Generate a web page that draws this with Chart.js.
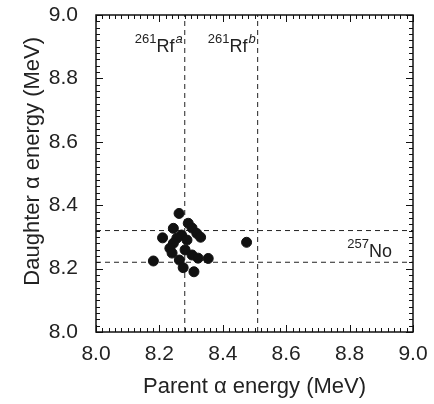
<!DOCTYPE html>
<html>
<head>
<meta charset="utf-8">
<script src="https://cdn.jsdelivr.net/npm/chart.js@4/dist/chart.umd.min.js"></script>
<style>
html, body { margin: 0; padding: 0; background: #fff; }
</style>
</head>
<body>
<canvas id="myChart" width="434" height="404"></canvas>
<script>
// correlated parent / daughter alpha energies (MeV)
var parentE   = [8.262, 8.210, 8.244, 8.291, 8.303, 8.318, 8.330, 8.270, 8.255, 8.244, 8.233,
                 8.240, 8.281, 8.303, 8.322, 8.354, 8.181, 8.263, 8.275, 8.309, 8.475, 8.287];
var daughterE = [8.374, 8.297, 8.327, 8.343, 8.328, 8.311, 8.299, 8.306, 8.296, 8.280, 8.264,
                 8.249, 8.259, 8.243, 8.233, 8.232, 8.224, 8.227, 8.203, 8.190, 8.283, 8.290];

// reference energies drawn as dashed lines
var rfLines = [8.28, 8.51];   // 261Rf a / b (parent)
var noLines = [8.22, 8.32];   // 257No (daughter)

// isotope labels: mass, symbol, superscript, anchor (right end, baseline)
var isoMass  = ['261', '261', '257'];
var isoSym   = ['Rf', 'Rf', 'No'];
var isoSup   = ['a', 'b', ''];
var isoX     = [8.28, 8.51, 8.94];
var isoY     = [8.883, 8.883, 8.2375];

var axisMin = 8.0, axisMax = 9.0, majorStep = 0.2, minorStep = 0.02;

Chart.defaults.font.family = "'Liberation Sans', Arial, Helvetica, sans-serif";
Chart.defaults.color = '#222';

var datasets = [{
    data: parentE.map(function(x, i) { return {x: x, y: daughterE[i]}; }),
    backgroundColor: '#111',
    borderColor: '#111',
    pointRadius: 5,
    pointHoverRadius: 5
}];
rfLines.forEach(function(v) {
    datasets.push({ data: [{x: v, y: axisMin}, {x: v, y: axisMax}], showLine: true,
        borderColor: '#222', borderWidth: 1, borderDash: [5, 4], pointRadius: 0 });
});
noLines.forEach(function(v) {
    datasets.push({ data: [{x: axisMin, y: v}, {x: axisMax, y: v}], showLine: true,
        borderColor: '#222', borderWidth: 1, borderDash: [5, 4], pointRadius: 0 });
});

var frameTicks = {
    id: 'frameTicks',
    afterDatasetsDraw: function(chart) {
        var ctx = chart.ctx, a = chart.chartArea;
        var xs = chart.scales.x, ys = chart.scales.y;
        ctx.save();
        ctx.strokeStyle = '#111';
        ctx.lineWidth = 1;
        ctx.beginPath();
        var n = Math.round((axisMax - axisMin) / minorStep);
        var per = Math.round(majorStep / minorStep);
        for (var i = 0; i <= n; i++) {
            var v = axisMin + i * minorStep;
            var len = (i % per === 0) ? 7 : 4;
            var px = Math.round(xs.getPixelForValue(v)) + 0.5;
            ctx.moveTo(px, a.bottom); ctx.lineTo(px, a.bottom - len);
            ctx.moveTo(px, a.top); ctx.lineTo(px, a.top + len);
            var py = Math.round(ys.getPixelForValue(v)) + 0.5;
            ctx.moveTo(a.left, py); ctx.lineTo(a.left + len, py);
            ctx.moveTo(a.right, py); ctx.lineTo(a.right - len, py);
        }
        ctx.stroke();
        ctx.lineWidth = 1.5;
        ctx.strokeRect(a.left, a.top, a.right - a.left, a.bottom - a.top);

        // isotope labels
        ctx.fillStyle = '#222';
        ctx.textBaseline = 'alphabetic';
        ctx.textAlign = 'left';
        var fam = Chart.defaults.font.family;
        for (var k = 0; k < isoSym.length; k++) {
            var xr = xs.getPixelForValue(isoX[k]) - 2;
            var yb = ys.getPixelForValue(isoY[k]);
            ctx.font = 'italic 13px ' + fam;
            var wSup = isoSup[k] ? ctx.measureText(isoSup[k]).width + 1 : 0;
            ctx.font = '18px ' + fam;
            var wSym = ctx.measureText(isoSym[k]).width;
            ctx.font = '13px ' + fam;
            var wMass = ctx.measureText(isoMass[k]).width;
            var x0 = xr - wSup - wSym - wMass;
            ctx.fillText(isoMass[k], x0, yb - 9);
            ctx.font = '18px ' + fam;
            ctx.fillText(isoSym[k], x0 + wMass, yb);
            if (isoSup[k]) {
                ctx.font = 'italic 13px ' + fam;
                ctx.fillText(isoSup[k], x0 + wMass + wSym + 1, yb - 9);
            }
        }
        ctx.restore();
    }
};

var ctx = document.getElementById('myChart').getContext('2d');
var myChart = new Chart(ctx, {
    type: 'scatter',
    data: { datasets: datasets },
    options: {
        responsive: false,
        animation: false,
        layout: { padding: { left: 0, right: 21, top: 15, bottom: 0 } },
        plugins: { legend: { display: false }, tooltip: { enabled: false } },
        scales: {
            x: {
                type: 'linear', min: axisMin, max: axisMax,
                grid: { display: false }, border: { display: false },
                ticks: { stepSize: majorStep, autoSkip: false, padding: 2, maxRotation: 0,
                    font: { size: 21 },
                    callback: function(v) { return v.toFixed(1); } },
                title: { display: true, text: 'Parent \u03b1 energy (MeV)', font: { size: 22 },
                    padding: { top: 0, bottom: 4 } },
                afterFit: function(s) { s.height = 72; s.paddingLeft = 0; s.paddingRight = 0; }
            },
            y: {
                type: 'linear', min: axisMin, max: axisMax,
                grid: { display: false }, border: { display: false },
                ticks: { stepSize: majorStep, autoSkip: false, padding: 10,
                    font: { size: 21 },
                    callback: function(v) { return v.toFixed(1); } },
                // leading spaces nudge the title up, as in the original
                title: { display: true, text: '\u00a0\u00a0\u00a0\u00a0Daughter \u03b1 energy (MeV)', font: { size: 22 },
                    padding: { top: 20, bottom: 0 } },
                afterFit: function(s) { s.width = 96; s.paddingTop = 0; s.paddingBottom = 0; }
            }
        }
    },
    plugins: [frameTicks]
});
</script>
</body>
</html>
